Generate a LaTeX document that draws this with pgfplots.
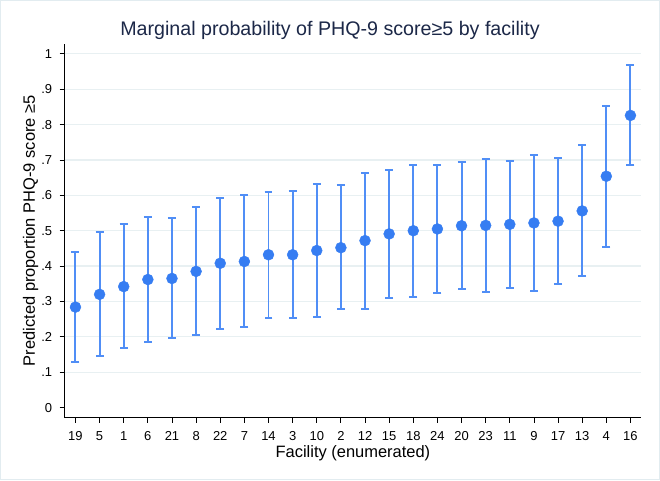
\documentclass[border=0pt]{standalone}
\usepackage{pgfplots}
\pgfplotsset{compat=1.18}
\usepackage{pgfplotstable}
\usepackage{fontspec}
\setmainfont{Liberation Sans}

\definecolor{statablue}{RGB}{54,125,242}
\definecolor{barblue}{RGB}{80,142,246}
\definecolor{gridcol}{RGB}{232,240,242}
\definecolor{framecol}{RGB}{226,236,240}
\definecolor{titlecol}{RGB}{28,40,72}

% facility order as on the axis; p = predicted proportion, lo/hi = 95% CI
\pgfplotstableread{
x  fac  p      lo     hi
0  19   0.284  0.129  0.440
1  5    0.320  0.145  0.495
2  1    0.342  0.168  0.519
3  6    0.362  0.185  0.538
4  21   0.365  0.196  0.535
5  8    0.385  0.206  0.566
6  22   0.408  0.222  0.593
7  7    0.413  0.227  0.601
8  14   0.432  0.253  0.610
9  3    0.432  0.253  0.612
10 10   0.444  0.257  0.633
11 2    0.452  0.278  0.628
12 12   0.472  0.279  0.664
13 15   0.491  0.310  0.671
14 18   0.500  0.313  0.687
15 24   0.505  0.325  0.685
16 20   0.514  0.334  0.694
17 23   0.515  0.327  0.704
18 11   0.518  0.339  0.697
19 9    0.522  0.330  0.715
20 17   0.527  0.349  0.705
21 13   0.556  0.371  0.743
22 4    0.654  0.454  0.854
23 16   0.826  0.685  0.969
}\facdata

\begin{document}
\begin{tikzpicture}[x=1bp,y=1bp]
\draw[framecol, fill=white, line width=1.5bp] (0,0) rectangle (660,480);
\node[text=titlecol, font=\fontsize{19.7bp}{22bp}\selectfont] at (330,450)
  {Marginal probability of PHQ-9 score≥5 by facility};
\begin{axis}[
    at={(64bp,62bp)}, anchor=south west,
    scale only axis, width=578bp, height=375bp,
    xmin=-0.45, xmax=23.45,
    ymin=-0.029, ymax=1.029,
    axis x line*=bottom, axis y line*=left,
    axis line style={black, line width=0.8bp, -},
    xtick=data,
    xticklabels={19,5,1,6,21,8,22,7,14,3,10,2,12,15,18,24,20,23,11,9,17,13,4,16},
    ytick={0.1,0.2,...,1.0},
    yticklabels={.1,.2,.3,.4,.5,.6,.7,.8,.9,1},
    extra y ticks={0},
    extra y tick labels={0},
    extra y tick style={grid=none},
    ymajorgrids,
    grid style={gridcol, line width=1.2bp},
    tick align=outside,
    major tick length=5bp,
    tick style={black, line width=0.8bp},
    tick label style={font=\fontsize{13bp}{15bp}\selectfont},
    xticklabel style={yshift=-5bp},
    yticklabel style={xshift=-4bp},
    xlabel={Facility (enumerated)},
    ylabel={Predicted proportion PHQ-9 score ≥5},
    label style={font=\fontsize{16.5bp}{19bp}\selectfont},
    xlabel style={at={(axis description cs:0.5,-0.096)}, anchor=center},
    ylabel style={at={(axis description cs:-0.0588,0.5)}, anchor=center},
    clip=false,
]
\addplot[
    only marks, statablue,
    mark=*, mark size=5.5bp, mark options={fill=statablue, draw=statablue},
    error bars/.cd,
      y dir=both, y explicit,
      error bar style={line width=2bp, barblue},
      error mark options={rotate=90, mark size=4bp, line width=2bp, barblue},
] table[
    x=x, y=p,
    y error plus expr=\thisrow{hi}-\thisrow{p},
    y error minus expr=\thisrow{p}-\thisrow{lo},
] {\facdata};
\end{axis}
\end{tikzpicture}
\end{document}
